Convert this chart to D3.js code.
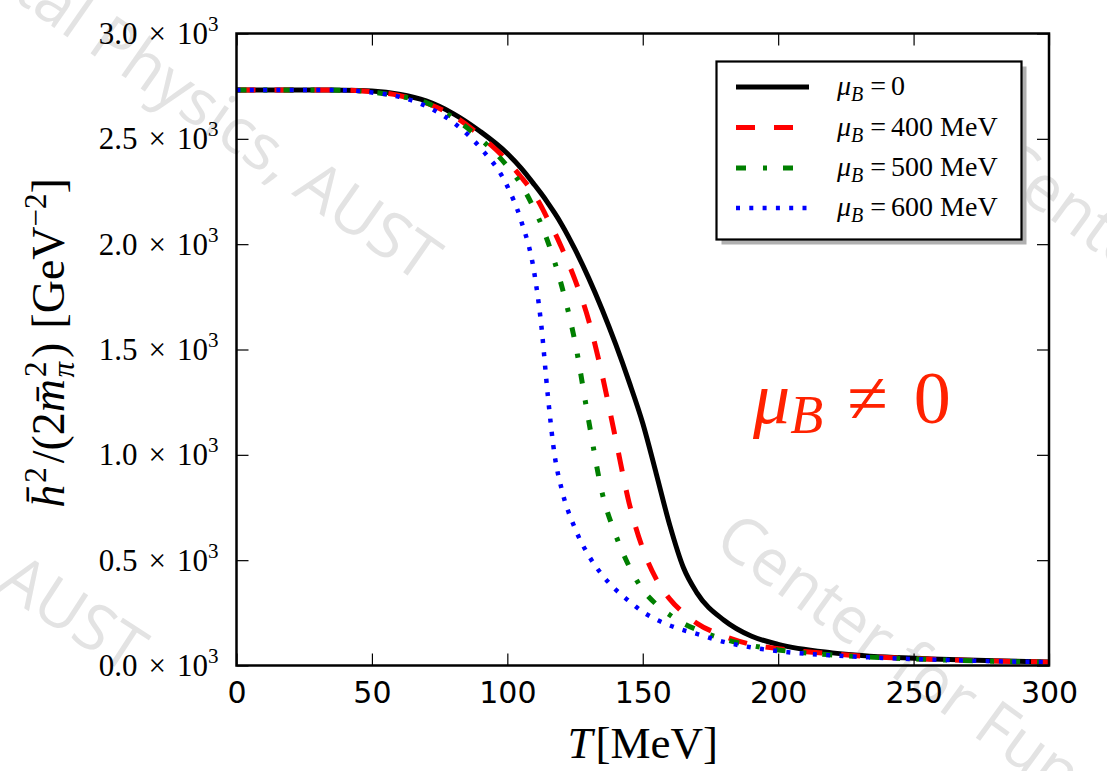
<!DOCTYPE html>
<html>
<head>
<meta charset="utf-8">
<script src="https://cdn.jsdelivr.net/npm/d3@7"></script>
<style>
body { margin: 0; background: #fff; }
</style>
</head>
<body>
<div id="chart"></div>
<script>
// temperature grid, MeV
var tempT = [0, 20, 40, 50, 60, 70, 80, 90, 100, 105, 110, 112.5, 115, 117.5, 120, 125, 130, 135, 140, 145, 150, 155, 160, 165, 170, 180, 190, 200, 220, 240, 260, 280, 300];

// h^2/(2 m_pi^2), GeV^-2
var h2Mu0   = [2732, 2732, 2731, 2727, 2712, 2680, 2620, 2535, 2430, 2362, 2282, 2240, 2195, 2147, 2095, 1975, 1840, 1690, 1525, 1345, 1150, 910, 665, 465, 345, 215, 140, 100, 60, 40, 30, 22, 17];
var h2Mu400 = [2732, 2732, 2731, 2724, 2706, 2670, 2610, 2515, 2395, 2320, 2235, 2180, 2117, 2055, 1985, 1830, 1640, 1380, 1075, 770, 555, 410, 315, 250, 200, 140, 100, 80, 55, 38, 28, 21, 16];
var h2Mu500 = [2732, 2732, 2731, 2722, 2703, 2672, 2600, 2500, 2370, 2285, 2165, 2095, 2010, 1915, 1805, 1535, 1165, 820, 620, 470, 360, 290, 240, 200, 170, 125, 95, 74, 50, 36, 27, 20, 16];
var h2Mu600 = [2732, 2732, 2731, 2720, 2700, 2655, 2578, 2458, 2275, 2115, 1860, 1620, 1275, 995, 840, 650, 523, 430, 360, 305, 255, 218, 190, 168, 150, 112, 86, 68, 48, 35, 27, 20, 16];

var muLabels = ["0", "400", "500", "600"];
var xTicks = [0, 50, 100, 150, 200, 250, 300];
var yTicks = [0, 500, 1000, 1500, 2000, 2500, 3000];
var yTickLabels = ["0.0", "0.5", "1.0", "1.5", "2.0", "2.5", "3.0"];

var svgW = 1107, svgH = 771;
var margin = {top: 33.5, left: 236.5};
var width = 812.5, height = 632;

var series = [
  {mu: muLabels[0], values: h2Mu0,   color: "#000000", dash: null,          sw: 5},
  {mu: muLabels[1], values: h2Mu400, color: "#ff0000", dash: "19,19",       sw: 5},
  {mu: muLabels[2], values: h2Mu500, color: "#007f00", dash: "10,17,4,16",  sw: 5},
  {mu: muLabels[3], values: h2Mu600, color: "#0000ff", dash: "4,9.3",       sw: 4.5}
];

var svg = d3.select("#chart").append("svg")
  .attr("width", svgW)
  .attr("height", svgH);

// watermark
var wm = "Center for Fundamental Physics, AUST";
var wmPos = [
  {x: 420, y: 284, anchor: "end",   rot: 35},
  {x: 127, y: 675, anchor: "end",   rot: 33},
  {x: 712, y: 546, anchor: "start", rot: 36},
  {x: 985, y: 172, anchor: "start", rot: 36}
];
svg.selectAll(".wm").data(wmPos).enter().append("text")
  .attr("class", "wm")
  .attr("transform", d => "translate(" + d.x + "," + d.y + ") rotate(" + d.rot + ")")
  .attr("text-anchor", d => d.anchor)
  .attr("font-family", "Open Sans, DejaVu Sans, sans-serif")
  .attr("font-size", 64)
  .attr("fill", "#e3e3e3")
  .text(wm);

var g = svg.append("g")
  .attr("transform", "translate(" + margin.left + "," + margin.top + ")");

//  SCALES
var x = d3.scaleLinear().domain([0, 300]).range([0, width]);
var y = d3.scaleLinear().domain([0, 3000]).range([height, 0]);

// Axes (ticks point inward, on all four sides)
var xAxisCall = d3.axisBottom(x).tickValues(xTicks).tickSize(-12).tickPadding(16);
var yAxisCall = d3.axisLeft(y).tickValues(yTicks).tickSize(-12).tickPadding(18);
var xTopCall = d3.axisTop(x).tickValues(xTicks).tickSize(-12).tickFormat("");
var yRightCall = d3.axisRight(y).tickValues(yTicks).tickSize(-12).tickFormat("");

var xAxis = g.append("g")
  .attr("transform", "translate(0," + height + ")")
  .call(xAxisCall);
xAxis.selectAll("text")
  .attr("font-family", "DejaVu Sans, sans-serif")
  .attr("font-size", 30)
  .attr("fill", "#000");

var yAxis = g.append("g").call(yAxisCall);
yAxis.selectAll("text").each(function(d, i) {
  var t = d3.select(this).text(null)
    .attr("font-family", "Liberation Serif, serif")
    .attr("font-size", 31)
    .attr("fill", "#000");
  t.append("tspan").text(yTickLabels[i]);
  t.append("tspan").attr("dx", 11).text("\u00d7");
  t.append("tspan").attr("dx", 11).text("10");
  t.append("tspan").attr("dy", -13).attr("font-size", 21).text("3");
});

g.append("g").call(xTopCall);
g.append("g").attr("transform", "translate(" + width + ",0)").call(yRightCall);

g.selectAll(".domain").remove();
g.selectAll(".tick line").attr("stroke", "#000").attr("stroke-width", 1.2);

// Lines
var line = d3.line()
  .x((d, i) => x(tempT[i]))
  .y(d => y(d))
  .curve(d3.curveMonotoneX);

g.append("clipPath").attr("id", "plotClip")
  .append("rect").attr("width", width).attr("height", height);

g.append("g").attr("clip-path", "url(#plotClip)")
  .selectAll("path").data(series).enter().append("path")
  .attr("fill", "none")
  .attr("stroke", d => d.color)
  .attr("stroke-width", d => d.sw)
  .attr("stroke-dasharray", d => d.dash)
  .attr("d", d => line(d.values));

// frame
g.append("rect")
  .attr("width", width)
  .attr("height", height)
  .attr("fill", "none")
  .attr("stroke", "#000")
  .attr("stroke-width", 2.5);

// X label
var xl = svg.append("text")
  .attr("x", margin.left + width / 2)
  .attr("y", 758)
  .attr("text-anchor", "middle")
  .attr("font-family", "Liberation Serif, serif")
  .attr("font-size", 45);
xl.append("tspan").attr("font-style", "italic").text("T");
xl.append("tspan").attr("dx", 3).text("[MeV]");

// Y label
var yl = svg.append("text")
  .attr("transform", "translate(64,343) rotate(-90)")
  .attr("text-anchor", "middle")
  .attr("font-family", "Liberation Serif, serif")
  .attr("font-size", 46);
yl.append("tspan").attr("font-style", "italic").text("h\u0304");
yl.append("tspan").attr("dy", -18).attr("dx", 2).attr("font-size", 31).text("2");
yl.append("tspan").attr("dy", 18).attr("dx", 4).text("/(2");
yl.append("tspan").attr("font-style", "italic").text("m\u0304");
yl.append("tspan").attr("dy", -18).attr("dx", 2).attr("font-size", 31).text("2");
yl.append("tspan").attr("dx", -16).attr("dy", 28).attr("font-size", 31).attr("font-style", "italic").text("\u03c0");
yl.append("tspan").attr("dy", -10).attr("dx", 4).text(")");
yl.append("tspan").attr("dx", 14).text("[GeV");
yl.append("tspan").attr("dy", -18).attr("font-size", 31).text("\u22122");
yl.append("tspan").attr("dy", 18).text("]");

// annotation
var ann = svg.append("text")
  .attr("x", 753)
  .attr("y", 423)
  .attr("font-family", "Liberation Serif, serif")
  .attr("font-size", 74)
  .attr("fill", "#ff2200");
ann.append("tspan").attr("font-style", "italic").text("\u03bc");
ann.append("tspan").attr("font-style", "italic").attr("font-size", 54).attr("dy", 10).text("B");
ann.append("tspan").attr("dy", -10).attr("dx", 24).text("\u2260");
ann.append("tspan").attr("dx", 26).text("0");

// Legend
var legX = 716.5, legY = 61.5, legW = 305, legH = 178;
svg.append("rect")
  .attr("x", legX + 5).attr("y", legY + 5)
  .attr("width", legW).attr("height", legH)
  .attr("fill", "#b0b0b0");
svg.append("rect")
  .attr("x", legX).attr("y", legY)
  .attr("width", legW).attr("height", legH)
  .attr("fill", "#fff")
  .attr("stroke", "#000")
  .attr("stroke-width", 2.2);

var rowY = [87, 127.5, 168, 208];
var leg = svg.selectAll(".leg").data(series).enter().append("g")
  .attr("class", "leg")
  .attr("transform", (d, i) => "translate(0," + rowY[i] + ")");
leg.append("line")
  .attr("x1", 736).attr("x2", 809)
  .attr("stroke", d => d.color)
  .attr("stroke-width", d => d.sw)
  .attr("stroke-dasharray", d => d.dash);
var lt = leg.append("text")
  .attr("x", 837).attr("y", 8)
  .attr("font-family", "Liberation Serif, serif")
  .attr("font-size", 28);
lt.append("tspan").attr("font-style", "italic").text("\u03bc");
lt.append("tspan").attr("font-style", "italic").attr("font-size", 20).attr("dy", 6).text("B");
lt.append("tspan").attr("dy", -6).attr("dx", 7).text("=");
lt.append("tspan").attr("dx", 5).text(d => d.mu);
lt.filter(d => d.mu !== "0").append("tspan").attr("dx", 7).text("MeV");
</script>
</body>
</html>
